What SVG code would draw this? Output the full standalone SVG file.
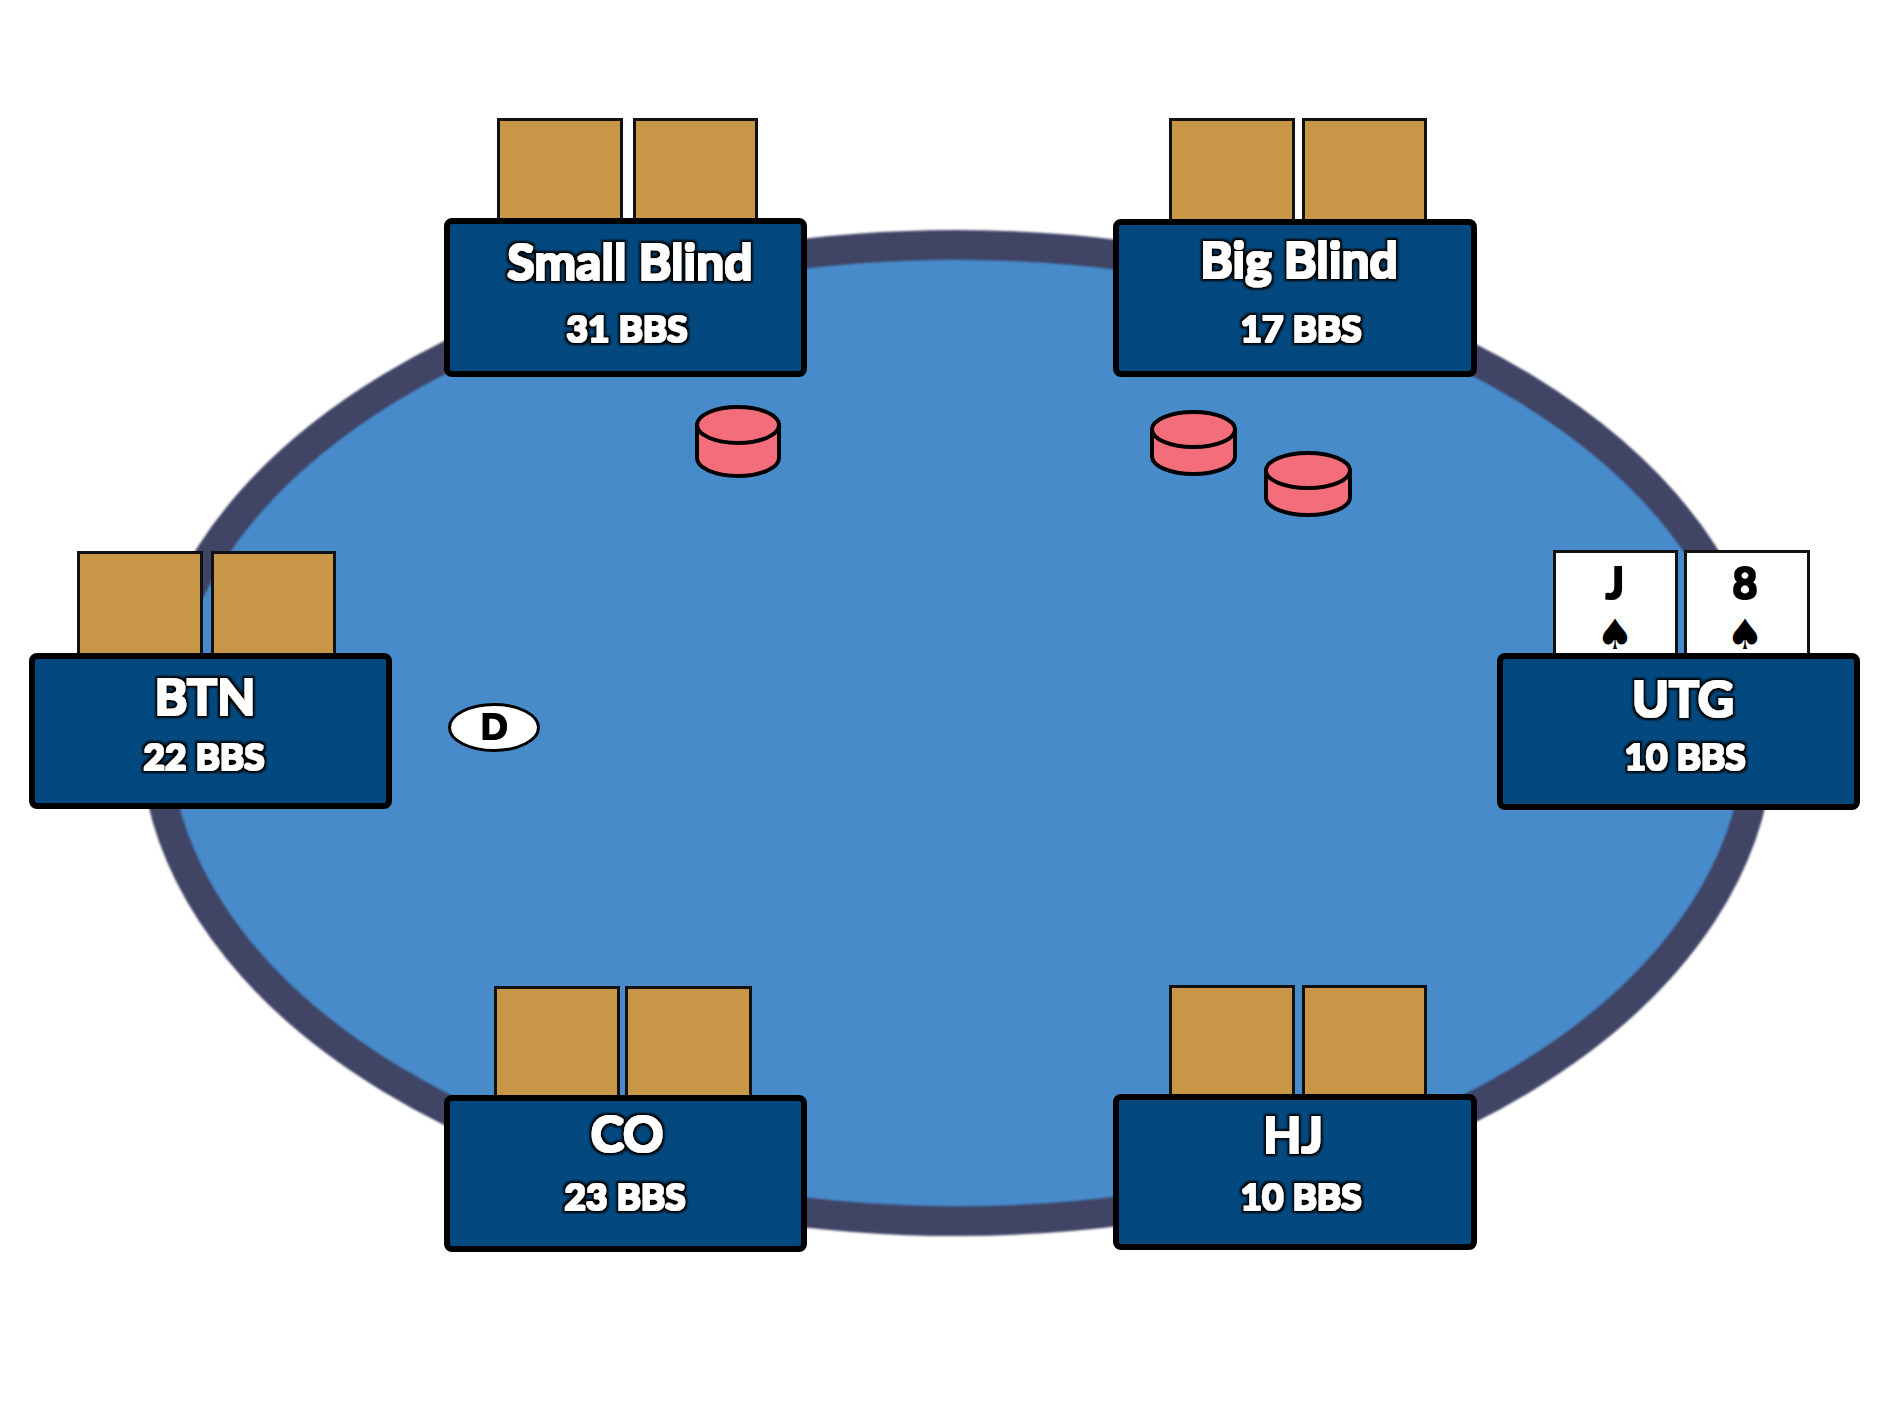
<svg xmlns="http://www.w3.org/2000/svg" width="1890" height="1417" viewBox="0 0 1890 1417">
<defs>
<style>
.box{fill:#03497f;stroke:#000;stroke-width:6;}
.card{fill:#c79647;stroke:#111;stroke-width:3;}
.wcard{fill:#fff;stroke:#111;stroke-width:3;}
.t{font-family:Lato,"Open Sans","Liberation Sans",sans-serif;font-weight:700;fill:#fff;text-anchor:middle;filter:url(#ol);}
.title{font-size:50px;}
.sub{font-size:37px;}
.cv{font-family:Lato,"Open Sans","Liberation Sans",sans-serif;font-weight:700;font-size:43px;fill:#000;text-anchor:middle;filter:url(#thick);}
.suit{font-family:"DejaVu Sans",sans-serif;font-size:42px;fill:#000;text-anchor:middle;}
.chip{fill:#f46d7b;stroke:#000;stroke-width:4;}
</style>
<filter id="soft" x="-5%" y="-5%" width="110%" height="110%"><feGaussianBlur stdDeviation="1"/></filter>
<filter id="ol" x="-10%" y="-30%" width="120%" height="160%">
<feMorphology in="SourceAlpha" operator="dilate" radius="3.2" result="d"/>
<feGaussianBlur in="d" stdDeviation="0.8" result="db"/>
<feFlood flood-color="#000"/>
<feComposite in2="db" operator="in" result="blk"/>
<feMorphology in="SourceGraphic" operator="dilate" radius="0.9" result="w"/>
<feMerge><feMergeNode in="blk"/><feMergeNode in="w"/></feMerge>
</filter>
<filter id="thick" x="-20%" y="-20%" width="140%" height="140%">
<feMorphology in="SourceGraphic" operator="dilate" radius="0.8"/>
</filter>
</defs>
<rect width="1890" height="1417" fill="#fff"/>
<g id="table" filter="url(#soft)">
<ellipse cx="957" cy="733" rx="802" ry="488" fill="#468bcb" stroke="#3f4466" stroke-width="30"/>
</g>
<g id="connectors"></g>
<g id="chip-sb">
<path class="chip" d="M697,425 L697,458 A41 18 0 0 0 779,458 L779,425 Z"/>
<ellipse class="chip" cx="738" cy="425" rx="41" ry="18"/>
</g>
<g id="chip-bb1">
<path class="chip" d="M1152,429.5 L1152,456.5 A41.5 17.5 0 0 0 1235,456.5 L1235,429.5 Z"/>
<ellipse class="chip" cx="1193.5" cy="429.5" rx="41.5" ry="17.5"/>
</g>
<g id="chip-bb2">
<path class="chip" d="M1266,470.5 L1266,497.5 A42 17.5 0 0 0 1350,497.5 L1350,470.5 Z"/>
<ellipse class="chip" cx="1308" cy="470.5" rx="42" ry="17.5"/>
</g>
<g id="dealer">
<ellipse cx="494" cy="727.5" rx="44.5" ry="23" fill="#fff" stroke="#000" stroke-width="3"/>
<text class="cv" x="494" y="739" style="font-size:35px">D</text>
</g>
<g id="sb">
<rect class="card" x="498.5" y="119.5" width="123" height="110"/>
<rect class="card" x="634.5" y="119.5" width="122" height="110"/>
<rect class="box" x="447" y="221" width="357" height="153" rx="5"/>
<text class="t title" x="630" y="280">Small Blind</text>
<text class="t sub" x="627" y="342">31 BBS</text>
</g>
<g id="bb">
<rect class="card" x="1170.5" y="119.5" width="123" height="110"/>
<rect class="card" x="1303.5" y="119.5" width="122" height="110"/>
<rect class="box" x="1116" y="222" width="358" height="152" rx="5"/>
<text class="t title" x="1299" y="278">Big Blind</text>
<text class="t sub" x="1301" y="342">17 BBS</text>
</g>
<g id="btn">
<rect class="card" x="78.5" y="552.5" width="123" height="110"/>
<rect class="card" x="212.5" y="552.5" width="122" height="110"/>
<rect class="box" x="32" y="656" width="357" height="150" rx="5"/>
<text class="t title" x="205" y="715">BTN</text>
<text class="t sub" x="204" y="770">22 BBS</text>
</g>
<g id="utg">
<rect class="wcard" x="1554.5" y="551.5" width="122" height="110"/>
<rect class="wcard" x="1685.5" y="551.5" width="123" height="110"/>
<text class="cv" x="1615" y="599">J</text>
<text class="suit" x="1615" y="649">♠</text>
<text class="cv" x="1745" y="599">8</text>
<text class="suit" x="1745" y="649">♠</text>
<rect class="box" x="1500" y="656" width="357" height="151" rx="5"/>
<text class="t title" x="1683" y="717">UTG</text>
<text class="t sub" x="1685" y="770">10 BBS</text>
</g>
<g id="co">
<rect class="card" x="495.5" y="987.5" width="123" height="115"/>
<rect class="card" x="626.5" y="987.5" width="124" height="115"/>
<rect class="box" x="447" y="1098" width="357" height="151" rx="5"/>
<text class="t title" x="627" y="1152">CO</text>
<text class="t sub" x="625" y="1210">23 BBS</text>
</g>
<g id="hj">
<rect class="card" x="1170.5" y="986.5" width="123" height="115"/>
<rect class="card" x="1303.5" y="986.5" width="122" height="115"/>
<rect class="box" x="1116" y="1097" width="358" height="150" rx="5"/>
<text class="t title" x="1293" y="1153">HJ</text>
<text class="t sub" x="1301" y="1210">10 BBS</text>
</g>
</svg>
